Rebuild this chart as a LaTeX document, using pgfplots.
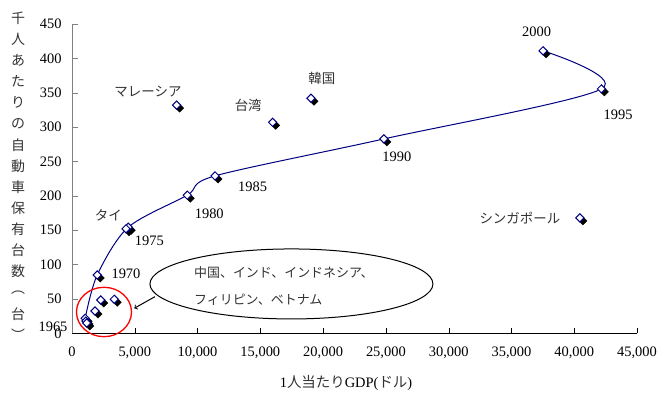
\documentclass[border=0pt]{standalone}
\usepackage{pgfplots}
\pgfplotsset{compat=1.18}
\usepackage{pgfplotstable}
\usepackage{fontspec}
\setmainfont{Liberation Serif}
\newfontfamily\jp{Noto Sans CJK JP}

\definecolor{jpnline}{HTML}{000080}
\definecolor{lbl}{HTML}{333333}

% Japan, 1965-2000: GDP per capita (USD) vs cars per 1000 people
\pgfplotstableread{
gdp   cars
1050  21.8
2010  84.9
4480  154.3
9180  201
11390 229
24840 282.8
42170 355.6
37520 411
}\japan

% Other Asian economies (single observations)
\pgfplotstableread{
gdp   cars
8330  332
15980 307
19030 342
40450 168
4300  152
2290  48.5
3370  49.5
1830  32.5
1110  17.9
1170  15
}\others

\begin{document}
\begin{tikzpicture}
\begin{axis}[
  scale only axis,
  width=565bp, height=309.3bp,
  xmin=0, xmax=45000, ymin=0, ymax=450,
  axis x line*=bottom, axis y line*=left,
  x axis line style={black},
  y axis line style={gray},
  xtick={0,5000,...,45000},
  ytick={0,50,...,450},
  tick align=inside,
  major tick length=5.5bp,
  xtick style={black},
  ytick style={gray},
  scaled x ticks=false,
  /pgf/number format/.cd, 1000 sep={,}, assume math mode=true,
  /pgfplots/.cd,
  ticklabel style={font=\fontsize{14.5}{17}\selectfont},
  xticklabel style={yshift=-10bp},
  yticklabel style={xshift=-7bp},
  clip=false,
]
\coordinate (o) at (rel axis cs:0,0);

% Japan trajectory
\addplot[jpnline, line width=1bp, smooth, tension=0.5] table[x=gdp,y=cars] {\japan};

% drop shadows of the markers
\addplot[only marks, mark=square*, mark size=2.9bp,
  mark options={xshift=3bp, yshift=-3bp, rotate=45, fill=black, draw=black}]
  table[x=gdp,y=cars] {\japan};
\addplot[only marks, mark=square*, mark size=2.9bp,
  mark options={xshift=3bp, yshift=-3bp, rotate=45, fill=black, draw=black}]
  table[x=gdp,y=cars] {\others};

% open diamond markers
\addplot[only marks, mark=square*, mark size=2.9bp,
  mark options={rotate=45, fill=white, draw=jpnline, line width=1bp}]
  table[x=gdp,y=cars] {\japan};
\addplot[only marks, mark=square*, mark size=2.9bp,
  mark options={rotate=45, fill=white, draw=jpnline, line width=1bp}]
  table[x=gdp,y=cars] {\others};

% year labels
\begin{scope}[every node/.style={font=\fontsize{14.5}{17}\selectfont, inner sep=0pt}]
\node at (axis cs:37000,439) {2000};
\node at (axis cs:43500,317.8) {1995};
\node at (axis cs:25876,256.6) {1990};
\node at (axis cs:14387,212.5) {1985};
\node at (axis cs:10932,173.2) {1980};
\node at (axis cs:6155,134.8) {1975};
\node at (axis cs:4300,87.3) {1970};
\node at (axis cs:-1513,9.2) {1965};
\end{scope}

% country labels
\begin{scope}[every node/.style={font=\jp\fontsize{13.5}{16}\selectfont, text=lbl, inner sep=0pt}]
\node at (axis cs:6051,351.2) {マレーシア};
\node at (axis cs:14037,332.3) {台湾};
\node at (axis cs:19905,371.6) {韓国};
\node at (axis cs:35670,167.8) {シンガポール};
\node at (axis cs:2890,172.2) {タイ};
\end{scope}

% callout for the low-income group
\draw[red, line width=1.3bp] (axis cs:2548,31) ellipse [x radius=27.5bp, y radius=24.7bp];
\draw[black, line width=1bp] (axis cs:17477,71.8) ellipse [x radius=141.5bp, y radius=35bp];
\node[align=left, inner sep=0pt, text=lbl, font=\jp\fontsize{13}{27}\selectfont]
  at (axis cs:16880,68.1) {中国、インド、インドネシア、\\フィリピン、ベトナム};
\draw[black, line width=1bp, ->] (axis cs:6608,53.3) -- (axis cs:4960,36.4);
\end{axis}

% vertical axis title
\foreach \c [count=\i from 0] in {千,人,あ,た,り,の,自,動,車,保,有,台,数,︵,台,︶}
  \path (o) ++(-54bp,315bp) ++(0,-\i*21.1bp) node[inner sep=0pt, text=lbl, font=\jp\fontsize{14}{16}\selectfont] {\c};

% horizontal axis title
\path (o) ++(274bp,-49.7bp) node[inner sep=0pt, font=\fontsize{14.5}{17}\selectfont]
  {1{\jp\color{lbl}人当たり}GDP({\jp\color{lbl}ドル})};

\pgfresetboundingbox
\path ([shift={(-72bp,-60.7bp)}]o) rectangle ([shift={(589bp,333.3bp)}]o);
\end{tikzpicture}
\end{document}
